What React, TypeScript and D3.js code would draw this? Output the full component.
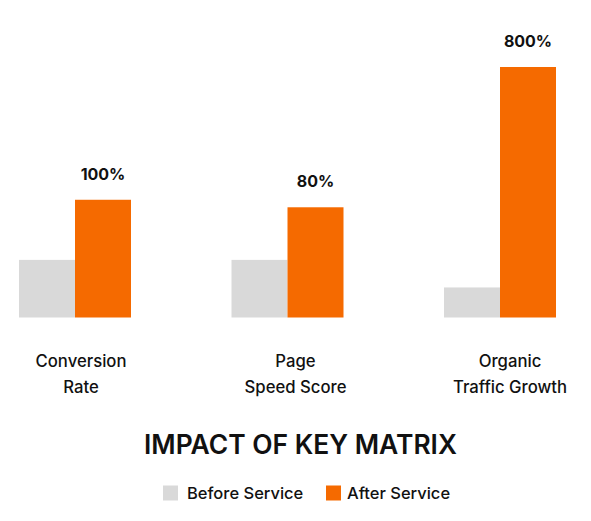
import React from 'react';
import * as d3 from 'd3';

const categories = [['Conversion', 'Rate'], ['Page', 'Speed Score'], ['Organic', 'Traffic Growth']];
const beforeValues = [23, 23, 12];
const afterValues = [47, 44, 100];
const afterLabels = ['100%', '80%', '800%'];
const seriesNames = ['Before Service', 'After Service'];

const WIDTH = 591;
const HEIGHT = 521;
const GRAY = '#D9D9D9';
const ORANGE = '#F56A00';
const INK = '#111111';
const FONT = 'Inter, "Noto Sans", sans-serif';

const App: React.FC = () => {
  const keys = categories.map((c) => c.join(' '));
  const x = d3.scalePoint<string>().domain(keys).range([75, 500]);
  const y = d3.scaleLinear().domain([0, 100]).range([317.5, 67]);
  const barW = 56;

  return (
    <svg
      width={WIDTH}
      height={HEIGHT}
      style={{ position: 'absolute', left: 0, top: 0, fontFamily: FONT }}
    >
      <rect width={WIDTH} height={HEIGHT} fill="#fff" />
      {keys.map((k, i) => {
        const cx = x(k) || 0;
        return (
          <g key={k}>
            <rect x={cx - barW} y={y(beforeValues[i])} width={barW} height={y(0) - y(beforeValues[i])} fill={GRAY} />
            <rect x={cx} y={y(afterValues[i])} width={barW} height={y(0) - y(afterValues[i])} fill={ORANGE} />
            <text
              x={cx + barW / 2}
              y={y(afterValues[i]) - 20}
              textAnchor="middle"
              fontSize={16}
              fontWeight={700}
              fill={INK}
            >
              {afterLabels[i]}
            </text>
            {categories[i].map((line, j) => (
              <text
                key={line}
                x={cx + 6 + i * 2}
                y={366.5 + j * 26}
                textAnchor="middle"
                fontSize={16.7}
                fontWeight={500}
                fill={INK}
              >
                {line}
              </text>
            ))}
          </g>
        );
      })}
      <text x={300.5} y={453.5} textAnchor="middle" fontSize={26.4} fontWeight={600} fill={INK}>
        IMPACT OF KEY MATRIX
      </text>
      <g>
        <rect x={163} y={485.5} width={15} height={15} fill={GRAY} />
        <text x={187} y={499} fontSize={16.5} fontWeight={500} fill={INK}>{seriesNames[0]}</text>
        <rect x={326} y={485.5} width={15} height={15} fill={ORANGE} />
        <text x={347} y={499} fontSize={16.5} fontWeight={500} fill={INK}>{seriesNames[1]}</text>
      </g>
    </svg>
  );
};

export default App;
